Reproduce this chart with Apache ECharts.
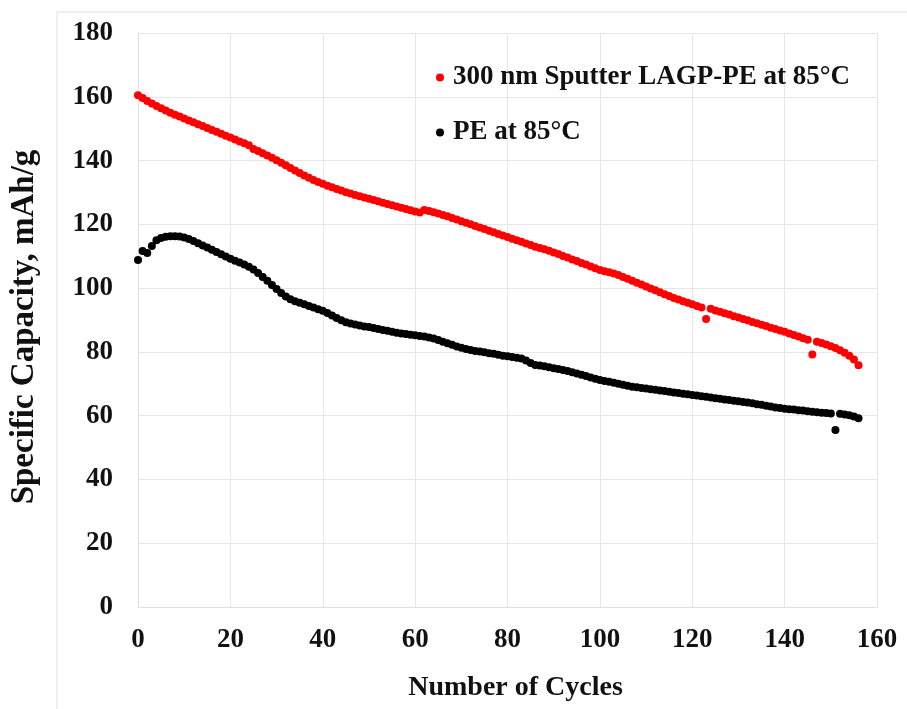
<!DOCTYPE html>
<html>
<head>
<meta charset="utf-8">
<script src="https://cdn.jsdelivr.net/npm/echarts@6/dist/echarts.min.js"></script>
<style>
html,body{margin:0;padding:0;background:#fff;}
#chart{width:907px;height:709px;}
</style>
</head>
<body>
<div id="chart"></div>
<script>
// Specific capacity (mAh/g) per cycle, cycles 0..156
const sputterLAGP = [
160.5,159.6,158.7,157.9,157.1,156.4,155.7,155.0,154.4,153.8,
153.2,152.6,152.0,151.4,150.8,150.2,149.6,149.0,148.4,147.8,
147.2,146.6,146.0,145.4,144.8,143.6,143.0,142.3,141.6,140.9,
140.1,139.3,138.5,137.7,136.9,136.1,135.3,134.6,133.9,133.3,
132.7,132.1,131.6,131.1,130.6,130.1,129.7,129.2,128.8,128.4,
128.0,127.6,127.2,126.8,126.4,126.0,125.6,125.2,124.8,124.4,
124.0,123.7,124.5,124.2,123.8,123.4,122.9,122.5,122.0,121.5,
121.0,120.5,120.0,119.5,119.0,118.5,118.0,117.5,117.0,116.5,
116.0,115.5,115.0,114.5,114.0,113.5,113.0,112.6,112.2,111.7,
111.2,110.7,110.1,109.6,109.0,108.5,107.9,107.4,106.8,106.2,
105.7,105.3,105.0,104.6,104.1,103.5,102.9,102.3,101.7,101.1,
100.5,99.9,99.3,98.7,98.1,97.5,96.9,96.4,95.9,95.4,
94.9,94.4,93.9,90.3,93.5,93.0,92.6,92.1,91.7,91.2,
90.8,90.3,89.9,89.4,89.0,88.5,88.1,87.6,87.2,86.7,
86.3,85.8,85.3,84.8,84.3,83.8,79.2,83.2,82.8,82.3,
81.8,81.2,80.5,79.7,78.8,77.6,75.8
];
const pe = [
108.8,111.6,111.0,113.2,115.0,115.7,116.1,116.3,116.3,116.2,
115.9,115.4,114.8,114.1,113.4,112.7,112.0,111.3,110.6,109.9,
109.2,108.6,108.0,107.4,106.7,105.8,104.7,103.5,102.3,101.0,
99.7,98.5,97.4,96.5,95.9,95.4,94.9,94.4,93.9,93.4,
92.9,92.2,91.4,90.6,89.9,89.3,88.9,88.6,88.3,88.0,
87.8,87.5,87.2,86.9,86.6,86.3,86.0,85.8,85.6,85.4,
85.2,85.0,84.8,84.5,84.2,83.7,83.2,82.7,82.2,81.7,
81.3,80.9,80.6,80.3,80.1,79.9,79.6,79.4,79.1,78.8,
78.6,78.4,78.2,77.9,77.3,76.5,75.9,75.7,75.5,75.2,
74.9,74.6,74.3,74.0,73.6,73.2,72.8,72.4,72.0,71.6,
71.2,70.9,70.6,70.3,70.0,69.7,69.4,69.1,68.9,68.7,
68.5,68.3,68.1,67.9,67.7,67.5,67.3,67.1,66.9,66.7,
66.5,66.3,66.1,65.9,65.7,65.5,65.3,65.1,64.9,64.7,
64.5,64.3,64.1,63.9,63.6,63.4,63.1,62.9,62.6,62.4,
62.2,62.0,61.9,61.7,61.6,61.4,61.2,61.1,60.9,60.8,
60.7,55.5,60.6,60.4,60.1,59.7,59.2
];
const seriesNames = ['300 nm Sputter LAGP-PE at 85°C', 'PE at 85°C'];
const xTitle = 'Number of Cycles';
const yTitle = 'Specific Capacity, mAh/g';

function pairs(arr){ return arr.map((v,i)=>[i, v]); }

const font = '"Liberation Serif", "Times New Roman", serif';
const chart = echarts.init(document.getElementById('chart'), null, {renderer:'canvas'});
chart.setOption({
  animation:false,
  backgroundColor:'#fff',
  graphic:[{type:'rect', shape:{x:57,y:12,width:900,height:720}, style:{fill:'none', stroke:'#e2e2e2', lineWidth:1}, silent:true, z:-1}],
  grid:{left:135, right:30, top:33, bottom:102},
  legend:{
    orient:'vertical', left:431, top:59, itemGap:28,
    itemWidth:8, itemHeight:8, icon:'circle',
    textStyle:{fontFamily:font, fontWeight:'bold', fontSize:27, color:'#111', padding:[0,0,0,4]},
    data:seriesNames
  },
  xAxis:{
    type:'value', min:0, max:160, interval:20,
    name:xTitle, nameLocation:'middle', nameGap:67,
    nameTextStyle:{fontFamily:font, fontWeight:'bold', fontSize:28, color:'#111', padding:[0,0,0,16]},
    axisLine:{show:true, lineStyle:{color:'#e0e0e0'}},
    axisTick:{show:false},
    axisLabel:{fontFamily:font, fontWeight:'bold', fontSize:27, color:'#111', margin:20},
    splitLine:{show:true, lineStyle:{color:'#e6e6e6'}}
  },
  yAxis:{
    type:'value', min:0, max:180, interval:20,
    name:yTitle, nameLocation:'middle', nameGap:97,
    nameTextStyle:{fontFamily:font, fontWeight:'bold', fontSize:33, color:'#111', padding:[0,14,0,0]},
    axisLine:{show:true, lineStyle:{color:'#e0e0e0'}},
    axisTick:{show:false},
    axisLabel:{fontFamily:font, fontWeight:'bold', fontSize:27, color:'#111', margin:25},
    splitLine:{show:true, lineStyle:{color:'#e6e6e6'}}
  },
  series:[
    {name:seriesNames[0], type:'scatter', data:pairs(sputterLAGP), symbol:'circle', symbolSize:8,
     itemStyle:{color:'#ff0000', opacity:1}},
    {name:seriesNames[1], type:'scatter', data:pairs(pe), symbol:'circle', symbolSize:8,
     itemStyle:{color:'#000000', opacity:1}}
  ]
});
</script>
</body>
</html>
